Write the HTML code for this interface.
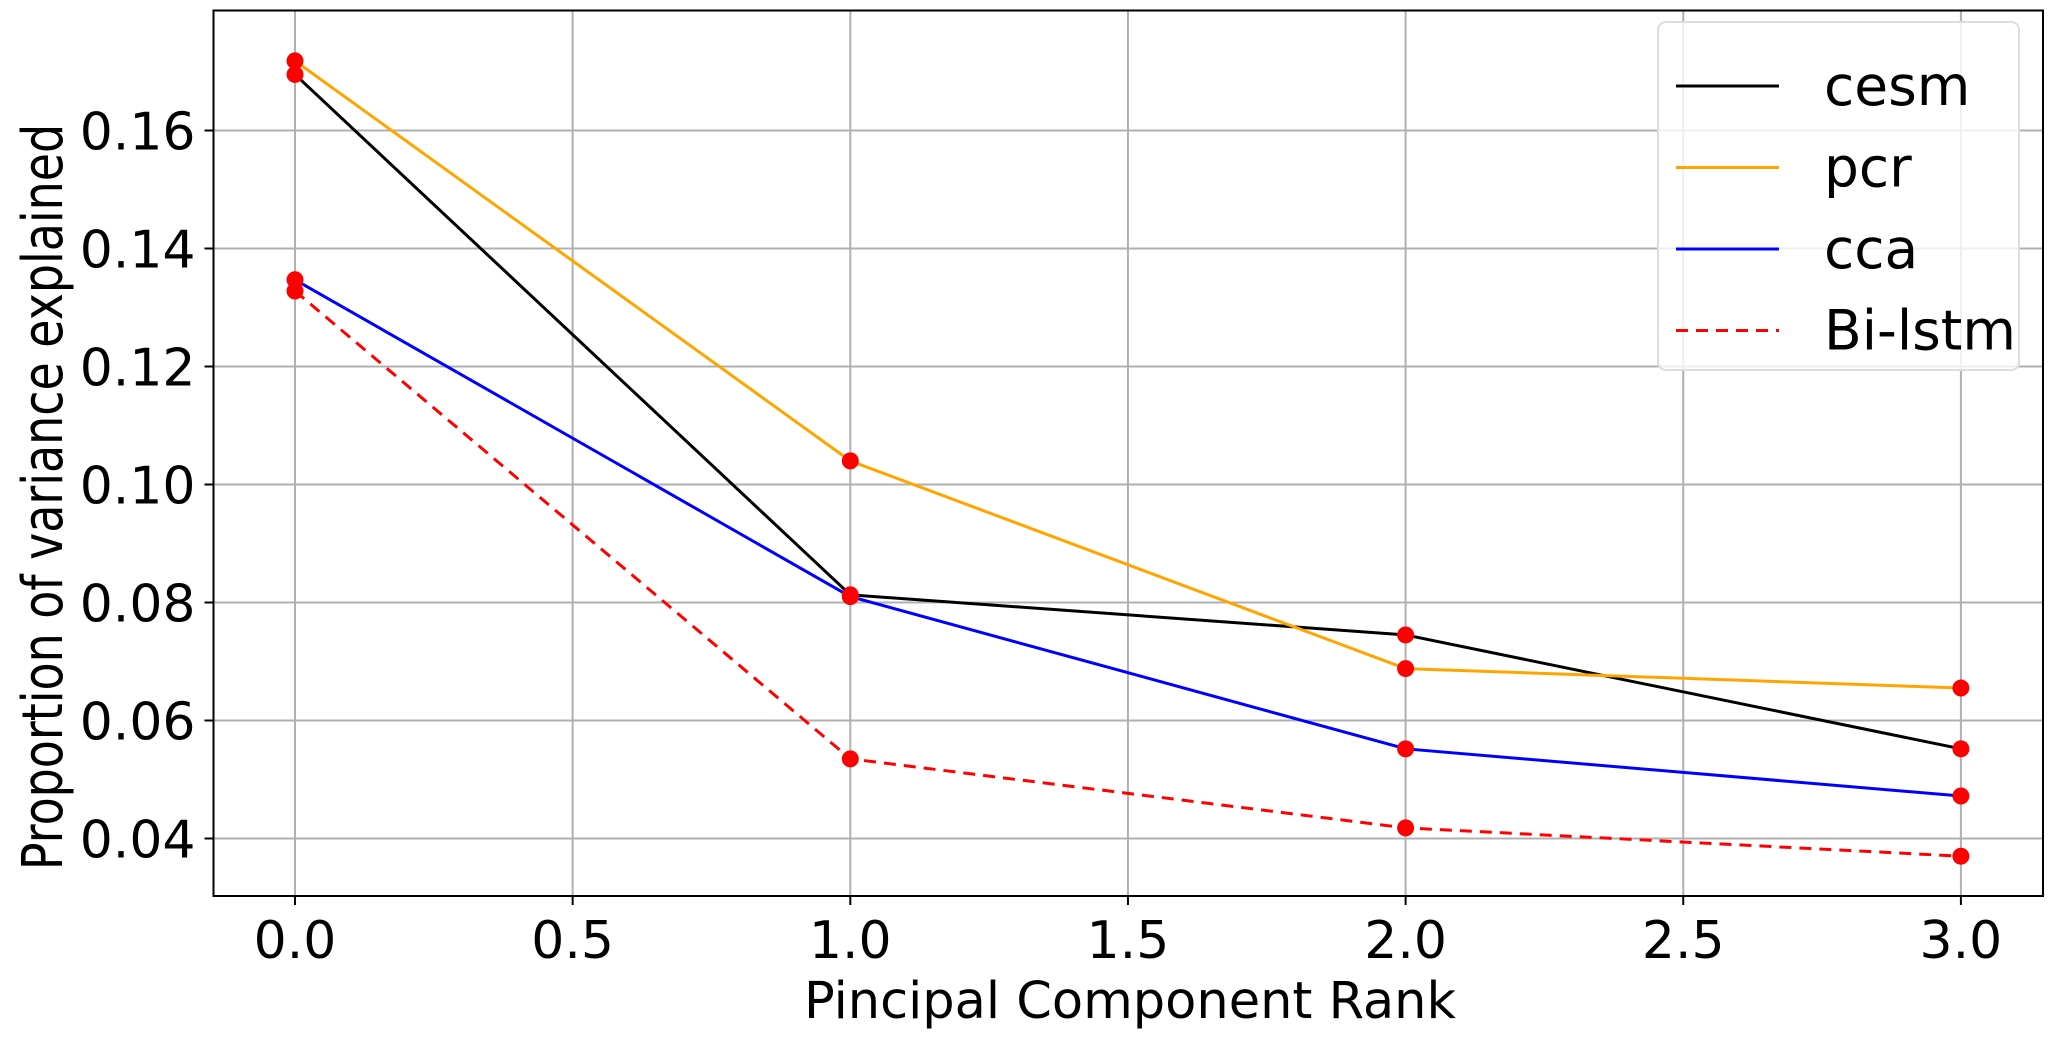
<!DOCTYPE html>
<html><head><meta charset="utf-8"><style>
html,body{margin:0;padding:0;background:#fff;}
svg{display:block;font-family:"DejaVu Sans","Liberation Sans",sans-serif;}
</style></head><body>
<svg id="chart" width="2067" height="1039" viewBox="0 0 2067 1039">
<g id="grid"></g>
<g id="series"></g>
<rect x="213.5" y="10.5" width="1829.5" height="885.5" fill="none" stroke="#000" stroke-width="2"/>
<g id="ticks"></g>
<text x="1130" y="1018" font-size="51" text-anchor="middle">Pincipal Component Rank</text>
<text transform="translate(62,497) rotate(-90) scale(0.82,1)" font-size="56" text-anchor="middle">Proportion of variance explained</text>
<g>
<rect x="1658" y="22" width="361" height="348" rx="8" fill="#fff" fill-opacity="0.8" stroke="#ddd" stroke-width="2"/>
<g id="legend-entries"></g>
</g>
</svg>
<script>
const categories=[0,1,2,3];
const cesm=[0.1695,0.0813,0.0745,0.0552];
const pcr=[0.1718,0.1040,0.0688,0.0655];
const cca=[0.1347,0.0810,0.0552,0.0472];
const bilstm=[0.1328,0.0535,0.0418,0.0370];
const seriesNames=["cesm","pcr","cca","Bi-lstm"];
const xTicks=[0,0.5,1,1.5,2,2.5,3];
const xTickLabels=["0.0","0.5","1.0","1.5","2.0","2.5","3.0"];
const yTicks=[0.04,0.06,0.08,0.10,0.12,0.14,0.16];
const yTickLabels=["0.04","0.06","0.08","0.10","0.12","0.14","0.16"];

const NS="http://www.w3.org/2000/svg";
const L=213.5,R=2043,T=10.5,B=896;
function xs(v){return 295+v*555.3;}
function ys(v){return 130.5+(0.16-v)/0.02*118;}
function mk(tag,attrs,parent){const e=document.createElementNS(NS,tag);for(const k in attrs)e.setAttribute(k,attrs[k]);parent.appendChild(e);return e;}
const grid=document.getElementById('grid'),ticks=document.getElementById('ticks'),sg=document.getElementById('series'),lg=document.getElementById('legend-entries');
xTicks.forEach((t,i)=>{
  const g=mk('line',{x1:xs(t),x2:xs(t),y1:T,y2:B,stroke:'#b0b0b0','stroke-width':2},grid);
  
  
  const tk=mk('line',{x1:xs(t),x2:xs(t),y1:B,y2:B+9,stroke:'#000','stroke-width':2},ticks);
  
  
  const tx=mk('text',{x:xs(t),y:958,'font-size':52,'text-anchor':'middle'},ticks);
  tx.textContent=xTickLabels[i];
  
  
});
yTicks.forEach((t,i)=>{
  const g=mk('line',{x1:L,x2:R,y1:ys(t),y2:ys(t),stroke:'#b0b0b0','stroke-width':2},grid);
  
  
  const tk=mk('line',{x1:L-9,x2:L,y1:ys(t),y2:ys(t),stroke:'#000','stroke-width':2},ticks);
  
  
  const tx=mk('text',{x:L-18,y:ys(t)+19,'font-size':52,'text-anchor':'end'},ticks);
  tx.textContent=yTickLabels[i];
  
  
});
const all=[cesm,pcr,cca,bilstm];
const colors=['#000000','#ffa500','#0000ff','#ff0000'];
const dashes=['','','','12,8'];
all.forEach((vals,si)=>{
  const pts=vals.map((v,i)=>xs(categories[i])+','+ys(v)).join(' ');
  const pl=mk('polyline',{points:pts,fill:'none',stroke:colors[si],'stroke-width':3,'stroke-dasharray':dashes[si]},sg);
  
  
});
all.forEach((vals,si)=>{
  vals.forEach((v,i)=>{
    const c=mk('circle',{cx:xs(categories[i]),cy:ys(v),r:8.5,fill:'#ff0000'},sg);
    
    
  });
});
seriesNames.forEach((n,i)=>{
  const y=86+i*81.5;
  const l=mk('line',{x1:1676,x2:1779,y1:y,y2:y,stroke:colors[i],'stroke-width':3,'stroke-dasharray':dashes[i]},lg);
  
  
  const t=mk('text',{x:1824,y:y+19,'font-size':55},lg);
  t.textContent=n;
  
  
});
</script>
</body></html>
